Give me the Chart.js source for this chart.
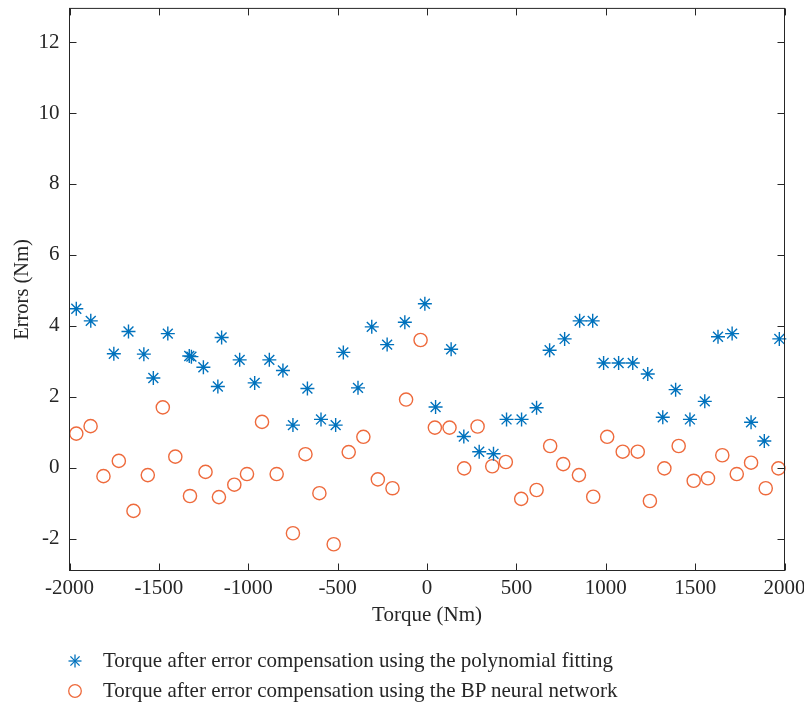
<!DOCTYPE html>
<html>
<head>
<meta charset="utf-8">
<script src="https://cdn.jsdelivr.net/npm/chart.js@4/dist/chart.umd.min.js"></script>
<style>
    body { margin: 0; background: #fff; }
    #wrap { position: relative; width: 804px; height: 703px; }
    #legend { position: absolute; left: 0; top: 645px; font-family: 'Liberation Serif', serif; font-size: 21px; color: #262626; }
    #legend .row { position: relative; height: 30px; line-height: 30px; white-space: nowrap; }
    #legend svg { position: absolute; left: 67px; top: 8px; }
    #legend span { position: absolute; left: 103px; top: 0; }
</style>
</head>
<body>
<div id="wrap">
    <canvas id="chart" width="804" height="703"></canvas>
    <div id="legend"></div>
</div>
<script>
const seriesNames = [
    'Torque after error compensation using the polynomial fitting',
    'Torque after error compensation using the BP neural network'
];

const polyTorque = [-1962, -1881, -1752, -1670, -1584, -1531, -1450, -1330, -1318, -1251,
    -1170, -1149, -1048, -964, -882, -806, -750, -669, -593, -511,
    -468, -386, -309, -223, -124, -12, 48, 135, 206, 292,
    372, 445, 529, 613, 686, 770, 854, 927, 988, 1072,
    1151, 1235, 1319, 1391, 1471, 1554, 1628, 1707, 1813, 1887, 1971];
const polyErrors = [4.48, 4.14, 3.21, 3.84, 3.20, 2.53, 3.78, 3.15, 3.13, 2.83,
    2.29, 3.67, 3.04, 2.39, 3.04, 2.74, 1.20, 2.23, 1.36, 1.20,
    3.25, 2.25, 3.97, 3.47, 4.10, 4.62, 1.71, 3.34, 0.88, 0.45,
    0.39, 1.36, 1.36, 1.69, 3.31, 3.63, 4.14, 4.14, 2.95, 2.95,
    2.95, 2.64, 1.42, 2.20, 1.36, 1.87, 3.69, 3.78, 1.28, 0.75, 3.63];

const bpTorque = [-1962, -1882, -1810, -1724, -1642, -1562, -1478, -1408, -1326, -1239,
    -1164, -1078, -1007, -923, -841, -750, -680, -602, -522, -438,
    -356, -275, -193, -117, -36, 44, 126, 208, 283, 365,
    441, 527, 613, 689, 762, 850, 930, 1008, 1095, 1179,
    1247, 1328, 1408, 1492, 1572, 1652, 1733, 1813, 1895, 1966];
const bpErrors = [0.96, 1.17, -0.24, 0.19, -1.22, -0.21, 1.70, 0.31, -0.80, -0.12,
    -0.83, -0.48, -0.18, 1.29, -0.18, -1.85, 0.38, -0.72, -2.16, 0.44,
    0.87, -0.33, -0.58, 1.92, 3.60, 1.13, 1.13, -0.02, 1.16, 0.04,
    0.16, -0.88, -0.63, 0.61, 0.10, -0.21, -0.82, 0.87, 0.45, 0.45,
    -0.94, -0.02, 0.61, -0.37, -0.30, 0.35, -0.18, 0.14, -0.58, -0.02];

const xTicks = [-2000, -1500, -1000, -500, 0, 500, 1000, 1500, 2000];
const yTicks = [-2, 0, 2, 4, 6, 8, 10, 12];

const blue = '#0072BD';
const orange = '#EE6A3C';
const ink = '#262626';
const font = { family: "'Liberation Serif', serif", size: 21 };

const toPoints = (xs, ys) => xs.map((x, i) => ({ x: x, y: ys[i] }));

const noPadding = scale => {
    scale.paddingTop = 0;
    scale.paddingBottom = 0;
    scale.paddingLeft = 0;
    scale.paddingRight = 0;
};

// box round the plot with inward ticks on all four sides
const boxPlugin = {
    id: 'box',
    afterDraw(chart) {
        const { ctx, chartArea: a, scales } = chart;
        const len = 7;
        ctx.save();
        ctx.strokeStyle = ink;
        ctx.lineWidth = 1;
        ctx.beginPath();
        for (let v of xTicks) {
            const px = Math.round(scales.x.getPixelForValue(v)) + 0.5;
            ctx.moveTo(px, a.bottom); ctx.lineTo(px, a.bottom - len);
            ctx.moveTo(px, a.top); ctx.lineTo(px, a.top + len);
        }
        for (let v of yTicks) {
            const py = Math.round(scales.y.getPixelForValue(v)) + 0.5;
            ctx.moveTo(a.left, py); ctx.lineTo(a.left + len, py);
            ctx.moveTo(a.right, py); ctx.lineTo(a.right - len, py);
        }
        ctx.stroke();
        ctx.strokeRect(a.left, a.top, a.right - a.left, a.bottom - a.top);
        ctx.restore();
    }
};

const markerSvg = (ds) => {
    if (ds.pointStyle === 'star') {
        return `<svg width="16" height="16"><g stroke="${ds.borderColor}" stroke-width="1.3">
            <line x1="1.5" y1="8" x2="14.5" y2="8"/><line x1="8" y1="1.5" x2="8" y2="14.5"/>
            <line x1="3.4" y1="3.4" x2="12.6" y2="12.6"/><line x1="3.4" y1="12.6" x2="12.6" y2="3.4"/></g></svg>`;
    }
    return `<svg width="16" height="16"><circle cx="8" cy="8" r="6.3" fill="none" stroke="${ds.borderColor}" stroke-width="1.3"/></svg>`;
};

const htmlLegendPlugin = {
    id: 'htmlLegend',
    afterUpdate(chart) {
        const box = document.getElementById('legend');
        box.innerHTML = chart.data.datasets
            .map(ds => `<div class="row">${markerSvg(ds)}<span>${ds.label}</span></div>`)
            .join('');
    }
};

new Chart(document.getElementById('chart'), {
    type: 'scatter',
    data: {
        datasets: [
            {
                label: seriesNames[0],
                data: toPoints(polyTorque, polyErrors),
                pointStyle: 'star',
                pointRadius: 7,
                borderColor: blue,
                backgroundColor: blue,
                borderWidth: 1.4,
                clip: false
            },
            {
                label: seriesNames[1],
                data: toPoints(bpTorque, bpErrors),
                pointStyle: 'circle',
                pointRadius: 6.6,
                borderColor: orange,
                backgroundColor: 'rgba(0,0,0,0)',
                borderWidth: 1.4,
                clip: false
            }
        ]
    },
    options: {
        responsive: false,
        animation: false,
        events: [],
        layout: { padding: { top: 5.5, right: 19.5, bottom: 73, left: 0 } },
        plugins: {
            legend: { display: false },
            tooltip: { enabled: false }
        },
        scales: {
            x: {
                type: 'linear',
                min: -2000,
                max: 2000,
                grid: { display: false, drawTicks: false },
                border: { display: false },
                afterBuildTicks: scale => { scale.ticks = xTicks.map(v => ({ value: v })); },
                afterFit: scale => { scale.height = 59.5; noPadding(scale); },
                ticks: {
                    font: font,
                    color: ink,
                    padding: 5,
                    maxRotation: 0,
                    autoSkip: false,
                    callback: v => String(v)
                },
                title: {
                    display: true,
                    text: 'Torque (Nm)',
                    font: font,
                    color: ink,
                    padding: { top: 0, bottom: 2 }
                }
            },
            y: {
                type: 'linear',
                min: -2.9,
                max: 12.95,
                grid: { display: false, drawTicks: false },
                border: { display: false },
                afterBuildTicks: scale => { scale.ticks = yTicks.map(v => ({ value: v })); },
                afterFit: scale => { scale.width = 69.5; noPadding(scale); },
                ticks: {
                    font: font,
                    color: ink,
                    padding: 10,
                    callback: v => String(v)
                },
                title: {
                    display: true,
                    text: 'Errors (Nm)',
                    font: { family: font.family, size: 20.5 },
                    color: ink,
                    padding: { top: 10, bottom: 0 }
                }
            }
        }
    },
    plugins: [boxPlugin, htmlLegendPlugin]
});
</script>
</body>
</html>
